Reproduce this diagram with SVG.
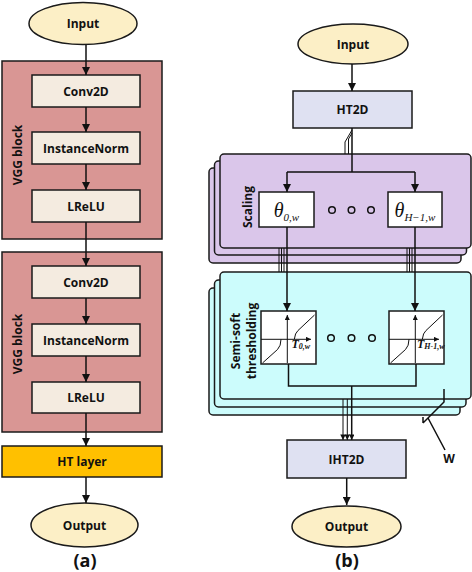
<svg xmlns="http://www.w3.org/2000/svg" width="472" height="572" viewBox="0 0 472 572">
<defs>
<marker id="ah" viewBox="0 0 10 10" refX="10" refY="5" markerWidth="10" markerHeight="8" markerUnits="userSpaceOnUse" orient="auto"><path d="M0,0 L10,5 L0,10 z" fill="#111"/></marker>
<marker id="ahm" viewBox="0 0 10 10" refX="10" refY="5" markerWidth="9" markerHeight="5.5" markerUnits="userSpaceOnUse" orient="auto"><path d="M0,0 L10,5 L0,10 z" fill="#111"/></marker>
<marker id="ahs" viewBox="0 0 10 10" refX="10" refY="5" markerWidth="6" markerHeight="5" markerUnits="userSpaceOnUse" orient="auto"><path d="M0,0 L10,5 L0,10 z" fill="#111"/></marker>
<style>
.lbl{font-family:"Open Sans","Liberation Sans",sans-serif;font-weight:bold;font-size:12px;fill:#111;text-anchor:middle}
.big{font-family:"Open Sans","Liberation Sans",sans-serif;font-weight:bold;font-size:18px;fill:#111;text-anchor:middle}
.ell{fill:#fcefc6;stroke:#1a1a1a;stroke-width:1.5}
.blk{fill:#d99694;stroke:#1a1a1a;stroke-width:1.5}
.inn{fill:#f4ebe0;stroke:#1a1a1a;stroke-width:1.5}
.ht{fill:#ffc000;stroke:#1a1a1a;stroke-width:1.5}
.lav{fill:#dfe1f2;stroke:#1a1a1a;stroke-width:1.5}
.sc{fill:#dac6ea;stroke:#1a1a1a;stroke-width:1.5}
.th{fill:#ccfcfc;stroke:#1a1a1a;stroke-width:1.5}
.wb{fill:#fff;stroke:#1a1a1a;stroke-width:1.5}
.ln{fill:none;stroke:#111;stroke-width:1.5}
.tn{fill:none;stroke:#111;stroke-width:1}
.dot{fill:none;stroke:#111;stroke-width:1.5}
.math{font-family:"Liberation Serif","DejaVu Serif",serif;font-style:italic;fill:#111;text-anchor:middle}
.tl{font-family:"Liberation Serif","DejaVu Serif",serif;font-style:italic;font-weight:bold;fill:#111;text-anchor:start}
</style>
</defs>

<!-- ===== (a) ===== -->
<g id="a-input"><ellipse class="ell" cx="83" cy="23.5" rx="54" ry="21"/><text class="lbl" x="83" y="28">Input</text></g>
<g id="vgg1"><rect class="blk" x="2" y="61" width="160" height="178"/><text class="lbl" font-size="13" transform="translate(22,155) rotate(-90)" x="0" y="0">VGG block</text></g>
<g id="conv1"><rect class="inn" x="32" y="75" width="108" height="32"/><text class="lbl" x="86" y="95.5">Conv2D</text></g>
<g id="in1"><rect class="inn" x="32" y="132" width="108" height="32"/><text class="lbl" x="86" y="152.5">InstanceNorm</text></g>
<g id="lrelu1"><rect class="inn" x="32" y="190" width="108" height="32"/><text class="lbl" x="86" y="210.5">LReLU</text></g>
<g id="vgg2"><rect class="blk" x="2" y="252" width="160" height="180"/><text class="lbl" font-size="13" transform="translate(22,344) rotate(-90)" x="0" y="0">VGG block</text></g>
<g id="conv2"><rect class="inn" x="32" y="266" width="108" height="32"/><text class="lbl" x="86" y="286.5">Conv2D</text></g>
<g id="in2"><rect class="inn" x="32" y="324" width="108" height="32"/><text class="lbl" x="86" y="344.5">InstanceNorm</text></g>
<g id="lrelu2"><rect class="inn" x="32" y="382" width="108" height="31"/><text class="lbl" x="86" y="402">LReLU</text></g>
<g id="htlayer"><rect class="ht" x="2" y="446" width="160" height="31"/><text class="lbl" x="82" y="466">HT layer</text></g>
<g id="a-output"><ellipse class="ell" cx="84.5" cy="525" rx="53.5" ry="22"/><text class="lbl" x="84.5" y="529.5">Output</text></g>
<text class="big" x="85" y="567">(a)</text>

<!-- ===== (b) ===== -->
<g id="b-input"><ellipse class="ell" cx="353" cy="44" rx="55" ry="20"/><text class="lbl" x="353" y="48.5">Input</text></g>
<g id="ht2d"><rect class="lav" x="293" y="91" width="119" height="37"/><text class="lbl" x="352.5" y="114">HT2D</text></g>

<g id="scaling">
<rect class="sc" x="209" y="168" width="252" height="95" rx="4"/>
<rect class="sc" x="214.5" y="161" width="252" height="94" rx="4"/>
<rect class="sc" x="220" y="154" width="251" height="94" rx="4"/>
<text class="lbl" font-size="15" transform="translate(252,207) rotate(-90)" x="0" y="0">Scaling</text>
</g>
<g id="theta0"><rect class="wb" x="259" y="192" width="55" height="35"/><text class="math" x="286.5" y="217" font-size="20">θ<tspan font-size="11" dy="4">0,w</tspan></text></g>
<g id="thetaH"><rect class="wb" x="388" y="192" width="54" height="35"/><text class="math" x="415" y="217" font-size="20">θ<tspan font-size="11" dy="4">H−1,w</tspan></text></g>
<g id="dots1"><circle class="dot" cx="332" cy="210" r="3.3"/><circle class="dot" cx="351.5" cy="210" r="3.3"/><circle class="dot" cx="371" cy="210" r="3.3"/></g>

<g id="thresholding">
<rect class="th" x="209" y="288" width="251" height="127" rx="4"/>
<rect class="th" x="214.5" y="280" width="251.5" height="127" rx="4"/>
<rect class="th" x="220" y="272" width="251" height="127" rx="4"/>
<text class="lbl" font-size="13" transform="translate(240,341) rotate(-90)" x="0" y="0">Semi-soft</text>
<text class="lbl" font-size="13" transform="translate(256,341) rotate(-90)" x="0" y="0">thresholding</text>
</g>
<g id="T0">
<rect class="wb" x="261" y="311" width="55" height="53"/>
<path class="tn" d="M287.3,363 V315" marker-end="url(#ahs)"/>
<path class="tn" d="M261,339.3 H311" marker-end="url(#ahs)"/>
<path class="tn" d="M262.5,363 L277.5,349.5 Q281,346 281,339.3 M294.3,339.3 Q295,333 298,330.5 L314.5,315"/>
<text class="tl" x="291.5" y="348" font-size="12">T<tspan font-size="8" dy="1">0,w</tspan></text>
</g>
<g id="TH">
<rect class="wb" x="389" y="311" width="55" height="53"/>
<path class="tn" d="M415.3,363 V315" marker-end="url(#ahs)"/>
<path class="tn" d="M389,339.3 H439" marker-end="url(#ahs)"/>
<path class="tn" d="M390.5,363 L405.5,349.5 Q409,346 409,339.3 M422.3,339.3 Q423,333 426,330.5 L442.5,315"/>
<text class="tl" x="417" y="348" font-size="12">T<tspan font-size="8" dy="1">H-1,w</tspan></text>
</g>
<g id="dots2"><circle class="dot" cx="331" cy="338" r="3.3"/><circle class="dot" cx="351.5" cy="338" r="3.3"/><circle class="dot" cx="372" cy="338" r="3.3"/></g>

<g id="iht2d"><rect class="lav" x="287" y="440" width="119" height="38"/><text class="lbl" x="346.5" y="463.5">IHT2D</text></g>
<g id="b-output"><ellipse class="ell" cx="346.5" cy="526.5" rx="54.5" ry="20.5"/><text class="lbl" x="346.5" y="531">Output</text></g>
<text class="big" x="347" y="567">(b)</text>

<g id="w-marker">
<path class="ln" d="M444,389 V402 L423,423 M423,417 V423 M428,418 L445,450"/>
<text class="lbl" font-size="13" x="449" y="463">W</text>
</g>

<!-- ===== connectors ===== -->
<g id="connectors">
<path class="ln" d="M86,45 V75" marker-end="url(#ah)"/>
<path class="ln" d="M86,107 V132" marker-end="url(#ah)"/>
<path class="ln" d="M86,164 V190" marker-end="url(#ah)"/>
<path class="ln" d="M86,222 V266" marker-end="url(#ah)"/>
<path class="ln" d="M86,298 V324" marker-end="url(#ah)"/>
<path class="ln" d="M86,356 V382" marker-end="url(#ah)"/>
<path class="ln" d="M86,413 V446" marker-end="url(#ah)"/>
<path class="ln" d="M86,477 V503" marker-end="url(#ah)"/>

<path class="ln" d="M352,64 V91" marker-end="url(#ah)"/>
<path class="ln" d="M352,128 V172 M287,172 H415"/>
<path class="tn" d="M345,154 V142 L352,130 M348.5,154 V139 L352,133"/>
<path class="ln" d="M287,172 V192" marker-end="url(#ah)"/>
<path class="ln" d="M415,172 V192" marker-end="url(#ah)"/>
<path class="ln" d="M287,227 V311" marker-end="url(#ah)"/>
<path class="ln" d="M415,227 V311" marker-end="url(#ah)"/>
<path class="tn" d="M279,248 V272 M281.5,248 V272 M284,248 V272 M407,248 V272 M409.5,248 V272 M412,248 V272"/>
<path class="ln" d="M288.5,364 V386 H416 V364"/>
<path class="ln" d="M351.7,386 V440" marker-end="url(#ahm)"/>
<path class="tn" d="M347.3,399 V440" marker-end="url(#ahm)"/>
<path class="tn" d="M343,399 V440" marker-end="url(#ahm)"/>
<path class="ln" d="M346.7,478 V505" marker-end="url(#ah)"/>
</g>
</svg>
